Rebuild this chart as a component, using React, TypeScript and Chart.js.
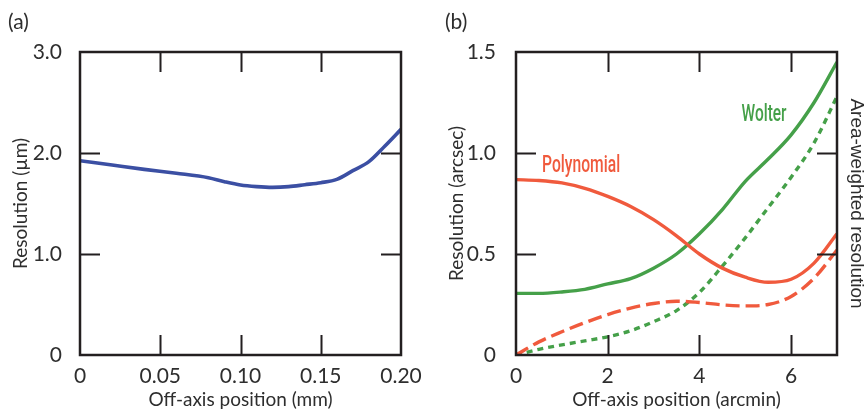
import { useEffect, useRef } from "react";
import { Chart, registerables } from "chart.js";

Chart.register(...registerables);

// ---------- Panel (a) data ----------
const aPosition = [0, 0.02, 0.04, 0.06, 0.08, 0.09, 0.1, 0.11, 0.12, 0.13, 0.14, 0.15, 0.16, 0.17, 0.18, 0.19, 0.2];
const aResolution = [1.924, 1.881, 1.838, 1.8, 1.756, 1.716, 1.683, 1.667, 1.66, 1.667, 1.686, 1.706, 1.739, 1.825, 1.914, 2.069, 2.234];
const aXTicks = [0, 0.05, 0.1, 0.15, 0.2];
const aXLabels = ["0", "0.05", "0.10", "0.15", "0.20"];
const aYTicks = [0, 1, 2, 3];
const aYLabels = ["0", "1.0", "2.0", "3.0"];

// ---------- Panel (b) data ----------
const bPosition = [0, 0.5, 1, 1.5, 2, 2.5, 3, 3.5, 4, 4.5, 5, 5.5, 6, 6.5, 7];
const polynomialResolution = [0.868, 0.864, 0.852, 0.825, 0.785, 0.735, 0.67, 0.59, 0.5, 0.43, 0.385, 0.36, 0.375, 0.455, 0.6];
const wolterResolution = [0.305, 0.305, 0.312, 0.325, 0.352, 0.378, 0.43, 0.5, 0.6, 0.72, 0.86, 0.97, 1.09, 1.25, 1.45];
const polynomialAreaWeighted = [0, 0.065, 0.115, 0.16, 0.2, 0.232, 0.255, 0.266, 0.26, 0.248, 0.243, 0.25, 0.29, 0.38, 0.52];
const wolterAreaWeighted = [0, 0.028, 0.05, 0.07, 0.09, 0.12, 0.165, 0.22, 0.31, 0.44, 0.58, 0.73, 0.88, 1.05, 1.28];
const bXTicks = [0, 2, 4, 6];
const bXLabels = ["0", "2", "4", "6"];
const bYTicks = [0, 0.5, 1, 1.5];
const bYLabels = ["0", "0.5", "1.0", "1.5"];

// ---------- Styling ----------
const TEXT = "#2e2e2e";
const FRAME = "#231f20";
const BLUE = "#3b4fa3";
const RED = "#f05a3d";
const GREEN = "#45a049";
const FONT = "Lato";

const pts = (xs: number[], ys: number[]) => xs.map((x, i) => ({ x, y: ys[i] }));

const framePlugin = {
  id: "frameTicks",
  afterDatasetsDraw(chart: any) {
    const { ctx, chartArea } = chart;
    const { left, right, top, bottom } = chartArea;
    const xs = chart.scales.x;
    const ys = chart.scales.y;
    const L = 20;
    ctx.save();
    ctx.strokeStyle = FRAME;
    ctx.lineWidth = 2;
    ctx.beginPath();
    xs.ticks.forEach((t: any) => {
      if (t.value > xs.min && t.value < xs.max) {
        const px = Math.round(xs.getPixelForValue(t.value)) + 0.5;
        ctx.moveTo(px, bottom);
        ctx.lineTo(px, bottom - L);
        ctx.moveTo(px, top);
        ctx.lineTo(px, top + L);
      }
    });
    ys.ticks.forEach((t: any) => {
      if (t.value > ys.min && t.value < ys.max) {
        const py = Math.round(ys.getPixelForValue(t.value)) + 0.5;
        ctx.moveTo(left, py);
        ctx.lineTo(left + L, py);
        ctx.moveTo(right, py);
        ctx.lineTo(right - L, py);
      }
    });
    ctx.stroke();
    ctx.lineWidth = 2.5;
    ctx.strokeRect(left, top, right - left, bottom - top);
    ctx.restore();
  },
};

const seriesLabels = [
  { text: "Polynomial", x: 1.42, y: 0.94, width: 78, color: RED },
  { text: "Wolter", x: 5.41, y: 1.193, width: 45, color: GREEN },
];

const labelPlugin = {
  id: "seriesLabels",
  afterDatasetsDraw(chart: any) {
    if (chart.canvas.dataset.panel !== "b") return;
    const { ctx } = chart;
    const xs = chart.scales.x;
    const ys = chart.scales.y;
    ctx.save();
    ctx.font = '500 24px Roboto';
    ctx.textBaseline = "middle";
    ctx.textAlign = "center";
    seriesLabels.forEach((l) => {
      const w = ctx.measureText(l.text).width;
      const sx = l.width / w;
      ctx.save();
      ctx.translate(xs.getPixelForValue(l.x), ys.getPixelForValue(l.y));
      ctx.scale(sx, 1);
      ctx.fillStyle = l.color;
      ctx.fillText(l.text, 0, 1);
      ctx.restore();
    });
    ctx.restore();
  },
};

const tickFont = { family: FONT, size: 21 };
const titleFont = { family: FONT, size: 19 };

function xScale(min: number, max: number, ticks: number[], labels: string[], title: string) {
  return {
    type: "linear",
    min,
    max,
    afterBuildTicks: (s: any) => {
      s.ticks = ticks.map((v) => ({ value: v }));
    },
    afterFit: (s: any) => {
      s.height = 58;
    },
    grid: { display: false },
    border: { display: false },
    ticks: {
      callback: (v: number) => labels[ticks.indexOf(v)],
      font: tickFont,
      color: TEXT,
      padding: 1,
      maxRotation: 0,
      autoSkip: false,
    },
    title: { display: true, text: title, font: titleFont, color: TEXT, padding: { top: 0, bottom: 2 } },
  };
}

function yScale(min: number, max: number, ticks: number[], labels: string[], title: string, pad: number) {
  return {
    type: "linear",
    position: "left",
    min,
    max,
    afterBuildTicks: (s: any) => {
      s.ticks = ticks.map((v) => ({ value: v }));
    },
    afterFit: (s: any) => {
      s.width = 74;
    },
    grid: { display: false },
    border: { display: false },
    ticks: {
      callback: (v: number) => labels[ticks.indexOf(v)],
      font: tickFont,
      color: TEXT,
      padding: pad,
      autoSkip: false,
    },
    title: { display: true, text: title, font: titleFont, color: TEXT, padding: { top: 3, bottom: 0 } },
  };
}

const common = {
  responsive: false,
  maintainAspectRatio: false,
  animation: false,
  devicePixelRatio: 1,
  events: [],
  plugins: { legend: { display: false }, tooltip: { enabled: false } },
  elements: { point: { radius: 0 }, line: { cubicInterpolationMode: "monotone", borderCapStyle: "butt" } },
};

export default function App() {
  const refA = useRef<HTMLCanvasElement>(null);
  const refB = useRef<HTMLCanvasElement>(null);

  useEffect(() => {
    const chartA = new Chart(refA.current as HTMLCanvasElement, {
      type: "line",
      data: {
        datasets: [
          { data: pts(aPosition, aResolution), borderColor: BLUE, borderWidth: 3.6 },
        ],
      },
      options: {
        ...common,
        layout: { padding: { left: 6, right: 29, top: 52, bottom: 0 } },
        scales: {
          x: xScale(0, 0.2, aXTicks, aXLabels, "Off-axis position (mm)"),
          y: yScale(0, 3, aYTicks, aYLabels, "Resolution (\u00b5m)", 10),
        },
      } as any,
      plugins: [framePlugin],
    } as any);

    const chartB = new Chart(refB.current as HTMLCanvasElement, {
      type: "line",
      data: {
        datasets: [
          { data: pts(bPosition, polynomialResolution), borderColor: RED, borderWidth: 3.4 },
          { data: pts(bPosition, wolterResolution), borderColor: GREEN, borderWidth: 3.4 },
          { data: pts(bPosition, polynomialAreaWeighted), borderColor: RED, borderWidth: 3.4, borderDash: [14, 6] },
          { data: pts(bPosition, wolterAreaWeighted), borderColor: GREEN, borderWidth: 3.4, borderDash: [6, 5] },
        ],
      },
      options: {
        ...common,
        layout: { padding: { left: 12, right: 0, top: 52, bottom: 0 } },
        scales: {
          x: xScale(0, 7, bXTicks, bXLabels, "Off-axis position (arcmin)"),
          y: yScale(0, 1.5, bYTicks, bYLabels, "Resolution (arcsec)", 12),
          y2: {
            type: "linear",
            position: "right",
            min: 0,
            max: 1.5,
            display: true,
            afterFit: (s: any) => {
              s.width = 29;
            },
            grid: { display: false },
            border: { display: false },
            ticks: { display: false },
            title: {
              display: true,
              text: "Area-weighted resolution",
              font: { family: "Liberation Sans", size: 19, lineHeight: 1 },
              color: TEXT,
              padding: 0,
            },
          },
        },
      } as any,
      plugins: [framePlugin, labelPlugin],
    } as any);

    return () => {
      chartA.destroy();
      chartB.destroy();
    };
  }, []);

  const panelLabel = {
    position: "absolute" as const,
    top: 9,
    font: `21px ${FONT}`,
    lineHeight: "24px",
    color: TEXT,
  };

  return (
    <div style={{ position: "fixed", left: 0, top: 0, width: 866, height: 413, background: "#fff", overflow: "hidden" }}>
      <canvas ref={refA} width={430} height={413} style={{ position: "absolute", left: 0, top: 0, width: 430, height: 413 }} />
      <canvas ref={refB} data-panel="b" width={436} height={413} style={{ position: "absolute", left: 430, top: 0, width: 436, height: 413 }} />
      <div style={{ ...panelLabel, left: 8 }}>(a)</div>
      <div style={{ ...panelLabel, left: 445 }}>(b)</div>
    </div>
  );
}
